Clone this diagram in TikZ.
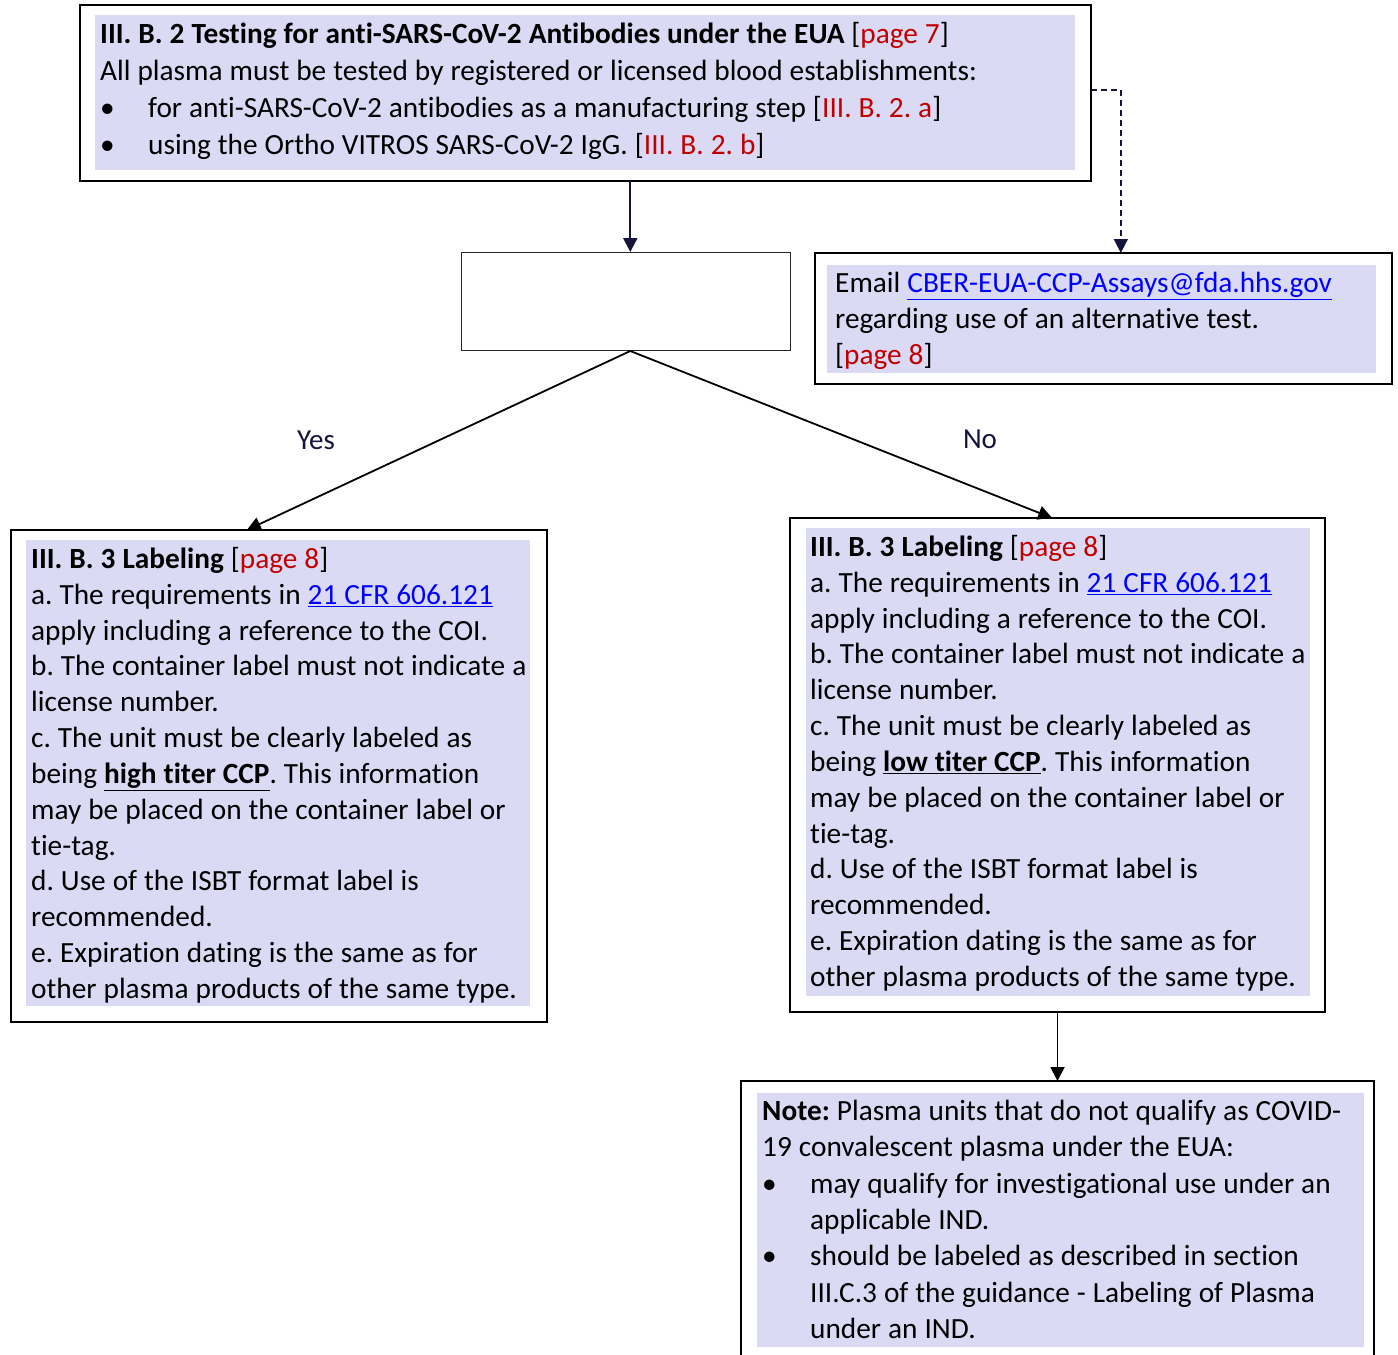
\documentclass[tikz,border=0pt]{standalone}
\usepackage{fontspec}
\setmainfont{Carlito}[Ligatures={NoCommon}]
\usetikzlibrary{arrows.meta,calc}
\definecolor{fillc}{RGB}{218,218,244}
\definecolor{refred}{RGB}{192,0,0}
\definecolor{linkblue}{RGB}{0,0,255}
\definecolor{navy}{RGB}{20,20,60}
\newcommand{\rref}[1]{[\textcolor{refred}{#1}]}
\newcommand{\lnk}[1]{\textcolor{linkblue}{\underline{#1}}}
\newcommand{\bul}{\makebox[48pt][l]{\textbullet}}
\newcommand{\boxfont}[1]{\frenchspacing\fontsize{29.3}{#1}\selectfont}
\newcommand{\tsp}{\spaceskip=7.0pt\relax\xspaceskip=7.0pt\relax}
\frenchspacing
\tikzset{
  outerbox/.style={draw=black, line width=2.4pt, anchor=north west, inner sep=0pt, outer sep=0pt},
  txt/.style={anchor=base west, inner sep=0pt, text width=1000pt, align=left},
  tip/.style={-{Triangle[width=14pt,length=14pt]}},
  blkline/.style={black, line width=1.8pt, tip},
  navyline/.style={navy, line width=2.2pt, tip},
  lbl/.style={navy, font=\fontsize{29}{32}\selectfont, inner sep=0pt}
}
\begin{document}
\begin{tikzpicture}[x=1pt,y=-1pt]
\useasboundingbox (0,0) rectangle (1398,1355);
\clip (0,0) rectangle (1398,1355);
\fill[white] (0,0) rectangle (1398,1355);

% top box
\node[outerbox, minimum width=1011pt, minimum height=176pt] (top) at (80,5) {};
\fill[fillc] (95,15) rectangle (1075,170);
\node[txt, font=\boxfont{37}] (toptext) at (100,43.5)
 {\tsp\textbf{III. B. 2 Testing for anti-SARS-CoV-2 Antibodies under the EUA} \rref{page 7}\\
  All plasma must be tested by registered or licensed blood establishments:\\
  \bul for anti-SARS-CoV-2 antibodies as a manufacturing step \rref{III. B. 2. a}\\
  \bul using the Ortho VITROS SARS-CoV-2 IgG. \rref{III. B. 2. b}};

% empty decision box
\node[draw=black!85, line width=1pt, anchor=north west, inner sep=0pt, minimum width=329pt, minimum height=98pt] (q) at (461,252) {};

% email box
\node[outerbox, minimum width=577pt, minimum height=131pt] (E) at (815,253) {};
\fill[fillc] (827,265) rectangle (1376,373);
\node[txt, font=\boxfont{36}] (etext) at (835,292.5)
 {\tsp Email \lnk{CBER-EUA-CCP-Assays@fda.hhs.gov}\\
  regarding use of an alternative test.\\
  \rref{page 8}};

% left labeling box
\node[outerbox, minimum width=536pt, minimum height=492pt] (L) at (11,530) {};
\fill[fillc] (26,540) rectangle (530,1006);
\node[txt, font=\boxfont{35.83}] (ltext) at (31,568.5)
 {\tsp\textbf{III. B. 3 Labeling} \rref{page 8}\\
  a. The requirements in \lnk{21 CFR 606.121}\\
  apply including a reference to the COI.\\
  b. The container label must not indicate a\\
  license number.\\
  c. The unit must be clearly labeled as\\
  being \underline{\textbf{high titer CCP}}. This information\\
  may be placed on the container label or\\
  tie-tag.\\
  d. Use of the ISBT format label is\\
  recommended.\\
  e. Expiration dating is the same as for\\
  other plasma products of the same type.};

% right labeling box
\node[outerbox, minimum width=535pt, minimum height=494pt] (R) at (790,518) {};
\fill[fillc] (806,528) rectangle (1310,996);
\node[txt, font=\boxfont{35.83}] (rtext) at (810,556.5)
 {\tsp\textbf{III. B. 3 Labeling} \rref{page 8}\\
  a. The requirements in \lnk{21 CFR 606.121}\\
  apply including a reference to the COI.\\
  b. The container label must not indicate a\\
  license number.\\
  c. The unit must be clearly labeled as\\
  being \underline{\textbf{low titer CCP}}. This information\\
  may be placed on the container label or\\
  tie-tag.\\
  d. Use of the ISBT format label is\\
  recommended.\\
  e. Expiration dating is the same as for\\
  other plasma products of the same type.};

% note box
\node[outerbox, minimum width=633pt, minimum height=300pt] (N) at (741,1081) {};
\fill[fillc] (757,1093) rectangle (1364,1347);
\node[txt, font=\boxfont{36.33}] (ntext) at (762,1120.5)
 {\tsp\textbf{Note:} Plasma units that do not qualify as COVID-\\
  19 convalescent plasma under the EUA:\\
  \bul may qualify for investigational use under an\\
  \hspace*{48pt}applicable IND.\\
  \bul should be labeled as described in section\\
  \hspace*{48pt}III.C.3 of the guidance - Labeling of Plasma\\
  \hspace*{48pt}under an IND.};

% labels
\node[lbl] (yes) at (316,440) {Yes};
\node[lbl] (no) at (980,439) {No};

% connectors
\coordinate (qin) at ($(q.north west)!0.513!(q.north east)$);
\coordinate (qout) at ($(q.south west)!0.513!(q.south east)$);
\draw[navyline] (qin |- top.south) -- (qin);
\draw[blkline] (qout) -- ($(L.north west)!0.44!(L.north east)$);
\draw[blkline] (qout) -- ($(R.north west)!0.49!(R.north east)$);
\coordinate (dstart) at ($(top.north east)!0.483!(top.south east)$);
\coordinate (dend) at ($(E.north west)!0.53!(E.north east)$);
\draw[navy, line width=1.6pt, dash pattern=on 6pt off 4pt, -{Triangle[width=14pt,length=14pt]}] (dstart) -| (dend);
\draw[blkline] (R.south) -- (N.north);
\end{tikzpicture}
\end{document}
